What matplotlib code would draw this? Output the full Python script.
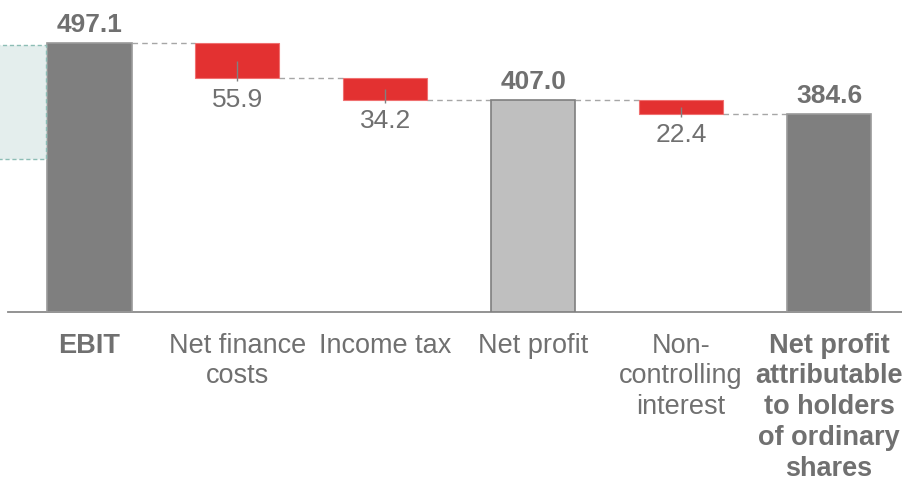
import numpy as np
import matplotlib
matplotlib.use("Agg")
import matplotlib.pyplot as plt
from matplotlib.patches import Rectangle

plt.rcParams['font.family'] = ['Liberation Sans', 'DejaVu Sans']

# data
categories = ['EBIT', 'Net finance\ncosts', 'Income tax', 'Net profit',
              'Non-\ncontrolling\ninterest',
              'Net profit\nattributable\nto holders\nof ordinary\nshares']
values = [497.1, -55.9, -34.2, 407.0, -22.4, 384.6]
is_total = [True, False, False, True, False, True]
bold_label = [True, False, False, False, False, True]

# styles
TXT = '#707070'
DARK = '#7f7f7f'
LIGHT = '#bfbfbf'
RED = '#e33131'
Y0 = 67.7


def main():
    fig = plt.figure(figsize=(9.03, 4.79), dpi=100, facecolor='w')
    ax = fig.add_axes([8 / 903, 1 - 311.7 / 479, 895 / 903, 311.7 / 479])

    x = np.arange(len(values))
    w = 0.57

    # work out bar bottoms / tops
    running = 0.0
    bottoms, tops = [], []
    for v, tot in zip(values, is_total):
        if tot:
            running = v
            bottoms.append(Y0)
            tops.append(v)
        else:
            top = running
            running = running + v
            bottoms.append(running)
            tops.append(top)

    for i, v in enumerate(values):
        b, t = bottoms[i], tops[i]
        if is_total[i]:
            fc = LIGHT if i == 3 else DARK
            ec = DARK if i == 3 else '#9a9a9a'
            ax.bar(x[i], t - b, bottom=b, width=w, color=fc, edgecolor=ec,
                   linewidth=1.2, zorder=3)
            ax.text(x[i], t + 17.5, '{:.1f}'.format(v), ha='center',
                    va='baseline', fontsize=19, fontweight='bold', color=TXT)
        else:
            ax.bar(x[i], t - b, bottom=b, width=w, color=RED, edgecolor='#f07070',
                   linewidth=0.8, zorder=3)
            mid = (t + b) / 2
            ax.vlines(x[i], b - 5, mid, color='#808080', lw=1.0, zorder=4)
            ax.text(x[i], b - 46, '{:.1f}'.format(-v), ha='center',
                    va='baseline', fontsize=19, color=TXT)

    # dashed connectors
    for i in range(len(values) - 1):
        level = tops[i] if is_total[i] else bottoms[i]
        ax.hlines(level, x[i] + w / 2, x[i + 1] - w / 2, color='#a6a6a6',
                  lw=1.0, linestyles=(0, (4, 3)), zorder=2)

    ax.set_xlim(-0.55, 5.5)
    ax.set_ylim(Y0, Y0 + 498.7)
    ax.set_xticks(x)
    ax.set_xticklabels(categories, fontsize=19.5, color=TXT, linespacing=1.24)
    for lab, b in zip(ax.get_xticklabels(), bold_label):
        lab.set_verticalalignment('top')
        if b:
            lab.set_fontweight('bold')
    ax.tick_params(axis='x', length=0, pad=15)
    ax.set_yticks([])
    for s in ['top', 'left', 'right']:
        ax.spines[s].set_visible(False)
    ax.spines['bottom'].set_color('#8a8a8a')
    ax.spines['bottom'].set_linewidth(1.3)

    # cut-off annotation box on the left edge
    box = Rectangle((-2 / 903, 1 - 158.5 / 479), 48 / 903, 113.5 / 479,
                    transform=fig.transFigure, facecolor='#e4eeed',
                    edgecolor='#8dbdb5', linewidth=1.0, linestyle=(0, (3, 2)),
                    zorder=0)
    fig.patches.append(box)

    fig.savefig('out.png', dpi=100)


main()
